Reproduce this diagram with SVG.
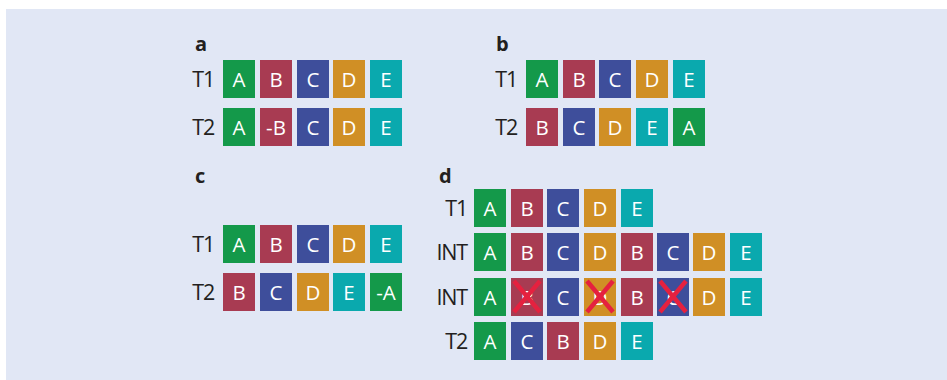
<svg xmlns="http://www.w3.org/2000/svg" width="947" height="380" viewBox="0 0 947 380">
<style>
.bg{fill:#e1e7f5}
.g{fill:#14994a}.r{fill:#a83b52}.b{fill:#3e4e9b}.o{fill:#d08f25}.t{fill:#0aa9ae}
.lt{font-family:"Open Sans","Liberation Sans",sans-serif;font-size:20.5px;fill:#fff;text-anchor:middle}
.rl{font-family:"Open Sans","Liberation Sans",sans-serif;font-size:21.5px;fill:#231f20;text-anchor:end;letter-spacing:-1.2px}
.pl{font-family:"Open Sans","Liberation Sans",sans-serif;font-size:20px;font-weight:bold;fill:#231f20}
.x{stroke:#e5213f;stroke-width:4.5;stroke-linecap:butt;fill:none}
</style>
<defs>
<rect id="bx" width="32" height="38"/>
</defs>
<rect class="bg" x="6" y="9" width="941" height="371"/>

<g id="panel-a">
<text class="pl" x="195" y="51">a</text>
<text class="rl" x="214" y="87">T1</text>
<text class="rl" x="214" y="135">T2</text>
<g id="a-t1">
<use href="#bx" class="g" x="223" y="60"/><text class="lt" x="239" y="87">A</text>
<use href="#bx" class="r" x="260" y="60"/><text class="lt" x="276" y="87">B</text>
<use href="#bx" class="b" x="297" y="60"/><text class="lt" x="313" y="87">C</text>
<use href="#bx" class="o" x="333" y="60"/><text class="lt" x="349" y="87">D</text>
<use href="#bx" class="t" x="370" y="60"/><text class="lt" x="386" y="87">E</text>
</g>
<g id="a-t2">
<use href="#bx" class="g" x="223" y="108"/><text class="lt" x="239" y="135">A</text>
<use href="#bx" class="r" x="260" y="108"/><text class="lt" x="276" y="135">-B</text>
<use href="#bx" class="b" x="297" y="108"/><text class="lt" x="313" y="135">C</text>
<use href="#bx" class="o" x="333" y="108"/><text class="lt" x="349" y="135">D</text>
<use href="#bx" class="t" x="370" y="108"/><text class="lt" x="386" y="135">E</text>
</g>
</g>

<g id="panel-b">
<text class="pl" x="496" y="51">b</text>
<text class="rl" x="517" y="87">T1</text>
<text class="rl" x="517" y="135">T2</text>
<g id="b-t1">
<use href="#bx" class="g" x="526" y="60"/><text class="lt" x="542" y="87">A</text>
<use href="#bx" class="r" x="563" y="60"/><text class="lt" x="579" y="87">B</text>
<use href="#bx" class="b" x="599" y="60"/><text class="lt" x="615" y="87">C</text>
<use href="#bx" class="o" x="636" y="60"/><text class="lt" x="652" y="87">D</text>
<use href="#bx" class="t" x="673" y="60"/><text class="lt" x="689" y="87">E</text>
</g>
<g id="b-t2">
<use href="#bx" class="r" x="526" y="108"/><text class="lt" x="542" y="135">B</text>
<use href="#bx" class="b" x="563" y="108"/><text class="lt" x="579" y="135">C</text>
<use href="#bx" class="o" x="599" y="108"/><text class="lt" x="615" y="135">D</text>
<use href="#bx" class="t" x="636" y="108"/><text class="lt" x="652" y="135">E</text>
<use href="#bx" class="g" x="673" y="108"/><text class="lt" x="689" y="135">A</text>
</g>
</g>

<g id="panel-c">
<text class="pl" x="195" y="183">c</text>
<text class="rl" x="214" y="252">T1</text>
<text class="rl" x="214" y="300">T2</text>
<g id="c-t1">
<use href="#bx" class="g" x="223" y="225"/><text class="lt" x="239" y="252">A</text>
<use href="#bx" class="r" x="260" y="225"/><text class="lt" x="276" y="252">B</text>
<use href="#bx" class="b" x="297" y="225"/><text class="lt" x="313" y="252">C</text>
<use href="#bx" class="o" x="333" y="225"/><text class="lt" x="349" y="252">D</text>
<use href="#bx" class="t" x="370" y="225"/><text class="lt" x="386" y="252">E</text>
</g>
<g id="c-t2">
<use href="#bx" class="r" x="223" y="273"/><text class="lt" x="239" y="300">B</text>
<use href="#bx" class="b" x="260" y="273"/><text class="lt" x="276" y="300">C</text>
<use href="#bx" class="o" x="297" y="273"/><text class="lt" x="313" y="300">D</text>
<use href="#bx" class="t" x="333" y="273"/><text class="lt" x="349" y="300">E</text>
<use href="#bx" class="g" x="370" y="273"/><text class="lt" x="386" y="300">-A</text>
</g>
</g>

<g id="panel-d">
<text class="pl" x="439" y="183">d</text>
<text class="rl" x="467" y="216">T1</text>
<text class="rl" x="467" y="260">INT</text>
<text class="rl" x="467" y="305">INT</text>
<text class="rl" x="467" y="349">T2</text>
<g id="d-t1">
<use href="#bx" class="g" x="474" y="189"/><text class="lt" x="490" y="216">A</text>
<use href="#bx" class="r" x="511" y="189"/><text class="lt" x="527" y="216">B</text>
<use href="#bx" class="b" x="547" y="189"/><text class="lt" x="563" y="216">C</text>
<use href="#bx" class="o" x="584" y="189"/><text class="lt" x="600" y="216">D</text>
<use href="#bx" class="t" x="621" y="189"/><text class="lt" x="637" y="216">E</text>
</g>
<g id="d-int1">
<use href="#bx" class="g" x="474" y="233"/><text class="lt" x="490" y="260">A</text>
<use href="#bx" class="r" x="511" y="233"/><text class="lt" x="527" y="260">B</text>
<use href="#bx" class="b" x="547" y="233"/><text class="lt" x="563" y="260">C</text>
<use href="#bx" class="o" x="584" y="233"/><text class="lt" x="600" y="260">D</text>
<use href="#bx" class="r" x="621" y="233"/><text class="lt" x="637" y="260">B</text>
<use href="#bx" class="b" x="657" y="233"/><text class="lt" x="673" y="260">C</text>
<use href="#bx" class="o" x="693" y="233"/><text class="lt" x="709" y="260">D</text>
<use href="#bx" class="t" x="730" y="233"/><text class="lt" x="746" y="260">E</text>
</g>
<g id="d-int2">
<use href="#bx" class="g" x="474" y="278"/><text class="lt" x="490" y="305">A</text>
<use href="#bx" class="r" x="511" y="278"/><text class="lt" x="527" y="305">B</text>
<use href="#bx" class="b" x="547" y="278"/><text class="lt" x="563" y="305">C</text>
<use href="#bx" class="o" x="584" y="278"/><text class="lt" x="600" y="305">D</text>
<use href="#bx" class="r" x="621" y="278"/><text class="lt" x="637" y="305">B</text>
<use href="#bx" class="b" x="657" y="278"/><text class="lt" x="673" y="305">C</text>
<use href="#bx" class="o" x="693" y="278"/><text class="lt" x="709" y="305">D</text>
<use href="#bx" class="t" x="730" y="278"/><text class="lt" x="746" y="305">E</text>
<path class="x" d="M514,281 L540,312 M540,281 L514,312"/>
<path class="x" d="M587,281 L613,312 M613,281 L587,312"/>
<path class="x" d="M660,281 L686,312 M686,281 L660,312"/>
</g>
<g id="d-t2">
<use href="#bx" class="g" x="474" y="322"/><text class="lt" x="490" y="349">A</text>
<use href="#bx" class="b" x="511" y="322"/><text class="lt" x="527" y="349">C</text>
<use href="#bx" class="r" x="547" y="322"/><text class="lt" x="563" y="349">B</text>
<use href="#bx" class="o" x="584" y="322"/><text class="lt" x="600" y="349">D</text>
<use href="#bx" class="t" x="621" y="322"/><text class="lt" x="637" y="349">E</text>
</g>
</g>
<g id="connectors"/>
</svg>
